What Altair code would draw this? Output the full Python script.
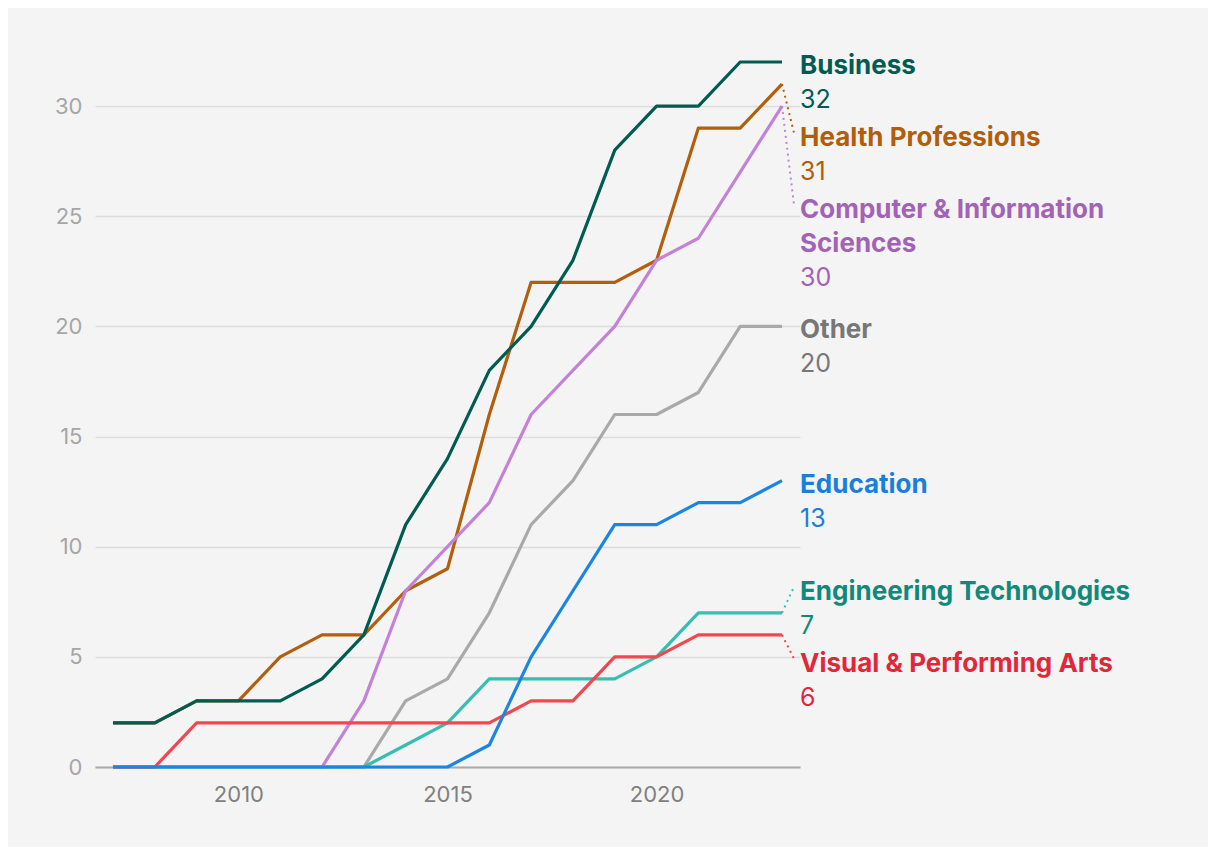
import textwrap
import altair as alt
import pandas as pd

# ---------------- data ----------------
years = list(range(2007, 2024))
categories = [
    "Business",
    "Health Professions",
    "Computer & Information Sciences",
    "Other",
    "Education",
    "Engineering Technologies",
    "Visual & Performing Arts",
]
business = [2, 2, 3, 3, 3, 4, 6, 11, 14, 18, 20, 23, 28, 30, 30, 32, 32]
health = [2, 2, 3, 3, 5, 6, 6, 8, 9, 16, 22, 22, 22, 23, 29, 29, 31]
computer = [0, 0, 0, 0, 0, 0, 3, 8, 10, 12, 16, 18, 20, 23, 24, 27, 30]
other = [0, 0, 0, 0, 0, 0, 0, 3, 4, 7, 11, 13, 16, 16, 17, 20, 20]
education = [0, 0, 0, 0, 0, 0, 0, 0, 0, 1, 5, 8, 11, 11, 12, 12, 13]
engineering = [0, 0, 0, 0, 0, 0, 0, 1, 2, 4, 4, 4, 4, 5, 7, 7, 7]
visual = [0, 0, 2, 2, 2, 2, 2, 2, 2, 2, 3, 3, 5, 5, 6, 6, 6]
series = [business, health, computer, other, education, engineering, visual]

line_colors = ["#005c50", "#b25f0c", "#c382d8", "#a9a9a9", "#1a86e2", "#36beb1", "#f1474f"]
label_colors = ["#005c50", "#b05e0c", "#a262b5", "#777777", "#1a7fdb", "#10897b", "#e0283a"]
draw_order = [1, 2, 3, 5, 6, 4, 0]  # bottom -> top

y_ticks = [0, 5, 10, 15, 20, 25, 30]
x_ticks = [2010, 2015, 2020]

# ---------------- layout settings ----------------
W, H = 705, 705
Y_MAX = 32
X_DOM = [2006.57, 2023.43]
PPU = H / Y_MAX                       # px per unit
PPY = W / (X_DOM[1] - X_DOM[0])       # px per year
LINE_H = 34
FONT = "Inter"
FS_NAME = 26
FS_VAL = 25
FS_AXIS = 22
TOP_MIN = 4

# ---------------- label placement (simple cluster dodge) ----------------
n = len(categories)
last_year = years[-1]
last = [s[-1] for s in series]
wrapped = [textwrap.wrap(c, 24) for c in categories]
nlines = [len(w) + 1 for w in wrapped]
targets = [(Y_MAX - v) * PPU + 4 for v in last]


def sep(i):
    return nlines[i] * LINE_H + 4


def place(cl):
    offs = [0]
    for a in cl[:-1]:
        offs.append(offs[-1] + sep(a))
    start = sum(targets[i] - o for i, o in zip(cl, offs)) / len(cl)
    start = max(start, TOP_MIN)
    return [start + o for o in offs]


clusters = []
for i in sorted(range(n), key=lambda k: targets[k]):
    clusters.append([i])
    while len(clusters) > 1:
        prev, cur = clusters[-2], clusters[-1]
        pp, cp = place(prev), place(cur)
        if pp[-1] + sep(prev[-1]) > cp[0]:
            clusters[-2:] = [prev + cur]
        else:
            break
pos = {}
for cl in clusters:
    for i, p in zip(cl, place(cl)):
        pos[i] = p

# ---------------- tables ----------------
line_rows = []
for i in draw_order:
    for yr, v in zip(years, series[i]):
        line_rows.append({"year": yr, "value": v, "cat": categories[i],
                          "col": line_colors[i], "ord": draw_order.index(i)})
lines_df = pd.DataFrame(line_rows)

name_rows, val_rows, lead_rows = [], [], []
for i in range(n):
    base = Y_MAX - pos[i] / PPU
    for k, t in enumerate(wrapped[i]):
        name_rows.append({"year": last_year, "y": base - k * LINE_H / PPU,
                          "txt": t, "col": label_colors[i]})
    val_rows.append({"year": last_year, "y": base - len(wrapped[i]) * LINE_H / PPU,
                     "txt": str(last[i]), "col": label_colors[i]})
    if abs(pos[i] - targets[i]) > 8:
        lead_rows.append({"year": last_year, "year2": last_year + 12 / PPY,
                          "y": last[i], "y2": base + 5 / PPU, "col": line_colors[i]})
names_df = pd.DataFrame(name_rows)
vals_df = pd.DataFrame(val_rows)
lead_df = pd.DataFrame(lead_rows)

# ---------------- chart ----------------
xs = alt.Scale(domain=X_DOM, nice=False, zero=False)
ys = alt.Scale(domain=[0, Y_MAX], nice=False)

lines = alt.Chart(lines_df).mark_line(strokeWidth=3.2, strokeJoin="round").encode(
    x=alt.X("year:Q", scale=xs,
            axis=alt.Axis(values=x_ticks, format="d", title=None, grid=False, ticks=False,
                          domain=True, domainColor="#aaaaaa", domainWidth=2,
                          labelColor="#808080", labelFontSize=FS_AXIS, labelPadding=17,
                          labelFont=FONT)),
    y=alt.Y("value:Q", scale=ys,
            axis=alt.Axis(values=y_ticks, title=None, domain=False, ticks=False,
                          gridColor="#dcdcdc", gridWidth=1.5,
                          labelColor="#a6a6a6", labelFontSize=FS_AXIS, labelPadding=13,
                          labelFont=FONT)),
    color=alt.Color("col:N", scale=None),
    detail="cat:N",
    order=alt.Order("ord:Q"),
)

leaders = alt.Chart(lead_df).mark_rule(strokeWidth=2, strokeDash=[2, 4]).encode(
    x=alt.X("year:Q", scale=xs),
    x2="year2:Q",
    y=alt.Y("y:Q", scale=ys),
    y2="y2:Q",
    color=alt.Color("col:N", scale=None),
)

names = alt.Chart(names_df).mark_text(
    align="left", baseline="middle", dx=18, font=FONT, fontSize=FS_NAME, fontWeight="bold"
).encode(
    x=alt.X("year:Q", scale=xs),
    y=alt.Y("y:Q", scale=ys),
    text="txt:N",
    color=alt.Color("col:N", scale=None),
)

vals = alt.Chart(vals_df).mark_text(
    align="left", baseline="middle", dx=18, font=FONT, fontSize=FS_VAL, fontWeight="normal"
).encode(
    x=alt.X("year:Q", scale=xs),
    y=alt.Y("y:Q", scale=ys),
    text="txt:N",
    color=alt.Color("col:N", scale=None),
)

chart = alt.layer(lines, leaders, names, vals).properties(
    width=W, height=H,
    autosize=alt.AutoSizeParams(type="none"),
    padding={"left": 87, "top": 54, "right": 408, "bottom": 80},
    background="#f4f4f4",
).configure(font=FONT).configure_view(stroke=None)

chart.save("out.html", embed_options={"renderer": "svg", "actions": False})
